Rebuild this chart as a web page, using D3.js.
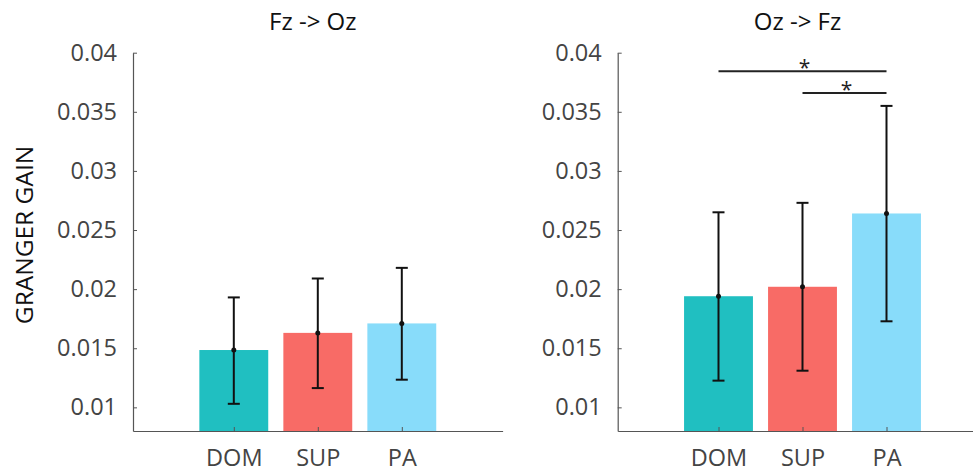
<!DOCTYPE html>
<html>
<head>
<meta charset="utf-8">
<script src="https://cdn.jsdelivr.net/npm/d3@7"></script>
<style>
  body { margin: 0; background: #fff; }
  svg { display: block; font-family: "Open Sans", sans-serif; }
</style>
</head>
<body>
<div id="chart"></div>
<script>
// groups and panel titles
const categories = ["DOM", "SUP", "PA"];
const titles = ["Fz -> Oz", "Oz -> Fz"];
const colors = ["#20bfc1", "#f86b66", "#88dcfa"];
const yTicks = [0.01, 0.015, 0.02, 0.025, 0.03, 0.035, 0.04];

// Fz -> Oz
const fzOzMean = [0.01485, 0.0163, 0.0171];
const fzOzLow = [0.0103, 0.01163, 0.01234];
const fzOzHigh = [0.0193, 0.0209, 0.0218];

// Oz -> Fz
const ozFzMean = [0.0194, 0.0202, 0.0264];
const ozFzLow = [0.01226, 0.0131, 0.01728];
const ozFzHigh = [0.0265, 0.0273, 0.0355];

// significance bars on the second panel: [from group, to group, height]
const sigBars = [[0, 2, 0.03843], [1, 2, 0.03659]];

const width = 973, height = 473;
const svg = d3.select("#chart").append("svg")
  .attr("width", width)
  .attr("height", height);

const y = d3.scaleLinear().domain([0.008, 0.04]).range([431, 52.7]);

const panels = [
  { left: 133, title: titles[0], mean: fzOzMean, lo: fzOzLow, hi: fzOzHigh, sig: [] },
  { left: 617.7, title: titles[1], mean: ozFzMean, lo: ozFzLow, hi: ozFzHigh, sig: sigBars }
];

panels.forEach(p => {
  const x = d3.scaleLinear().domain([-0.2, 4.2]).range([p.left, p.left + 369.6]);
  const g = svg.append("g");
  const bw = x(0.82) - x(0);

  // bars
  g.selectAll("rect.bar")
    .data(p.mean)
    .join("rect")
      .attr("class", "bar")
      .attr("x", (d, i) => x(i + 1) - bw / 2)
      .attr("y", d => y(d))
      .attr("width", bw)
      .attr("height", d => y(0.008) - y(d))
      .attr("fill", (d, i) => colors[i]);

  // y axis, ticks pointing inward like matlab
  const yAxis = g.append("g")
    .attr("transform", `translate(${p.left},0)`)
    .call(d3.axisLeft(y).tickValues(yTicks)
      .tickFormat(d => String(+d.toFixed(3)))
      .tickSizeInner(-4).tickSizeOuter(0).tickPadding(16));

  const xAxis = g.append("g")
    .attr("transform", `translate(0,${y(0.008)})`)
    .call(d3.axisBottom(x).tickValues([1, 2, 3])
      .tickFormat(d => categories[d - 1])
      .tickSizeInner(-4).tickSizeOuter(0).tickPadding(18));

  [yAxis, xAxis].forEach(a => {
    a.select(".domain").attr("stroke", "#555").attr("stroke-width", 1.2);
    a.selectAll(".tick line").attr("stroke", "#555");
    a.selectAll(".tick text")
      .attr("fill", "#444")
      .style("font-size", "23.5px")
      .style("font-family", "'Open Sans', sans-serif");
  });

  // error bars
  const eb = g.selectAll("g.err")
    .data(p.mean)
    .join("g")
      .attr("class", "err");
  eb.append("line")
    .attr("x1", (d, i) => x(i + 1)).attr("x2", (d, i) => x(i + 1))
    .attr("y1", (d, i) => y(p.lo[i])).attr("y2", (d, i) => y(p.hi[i]))
    .attr("stroke", "#111").attr("stroke-width", 2);
  eb.append("line")
    .attr("x1", (d, i) => x(i + 1) - 6).attr("x2", (d, i) => x(i + 1) + 6)
    .attr("y1", (d, i) => y(p.lo[i])).attr("y2", (d, i) => y(p.lo[i]))
    .attr("stroke", "#111").attr("stroke-width", 2);
  eb.append("line")
    .attr("x1", (d, i) => x(i + 1) - 6).attr("x2", (d, i) => x(i + 1) + 6)
    .attr("y1", (d, i) => y(p.hi[i])).attr("y2", (d, i) => y(p.hi[i]))
    .attr("stroke", "#111").attr("stroke-width", 2);
  eb.append("circle")
    .attr("cx", (d, i) => x(i + 1))
    .attr("cy", d => y(d))
    .attr("r", 2.5)
    .attr("fill", "#111");

  // significance lines + stars
  p.sig.forEach(s => {
    g.append("line")
      .attr("x1", x(s[0] + 1)).attr("x2", x(s[1] + 1))
      .attr("y1", y(s[2])).attr("y2", y(s[2]))
      .attr("stroke", "#222").attr("stroke-width", 2);
    g.append("text")
      .attr("x", (x(s[0] + 1) + x(s[1] + 1)) / 2 + 2)
      .attr("y", y(s[2]) + 4)
      .attr("text-anchor", "middle")
      .style("font-size", "21px")
      .attr("fill", "#222")
      .text("*");
  });

  // title
  g.append("text")
    .attr("x", x(2) - 5)
    .attr("y", 30)
    .attr("text-anchor", "middle")
    .style("font-size", "24px")
    .attr("fill", "#111")
    .text(p.title);
});

// y label
svg.append("text")
  .attr("transform", "translate(33,235) rotate(-90)")
  .attr("text-anchor", "middle")
  .style("font-size", "24.5px")
  .attr("fill", "#111")
  .text("GRANGER GAIN");
</script>
</body>
</html>
